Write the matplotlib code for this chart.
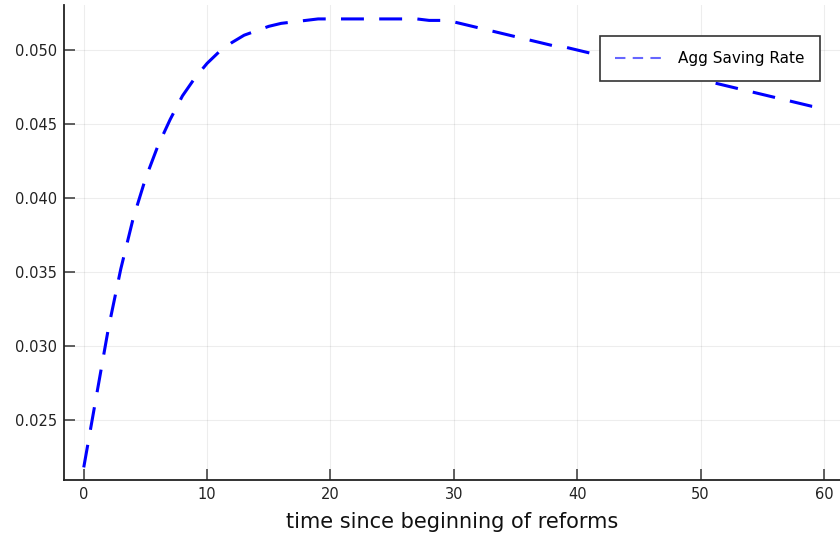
import numpy as np
import matplotlib.pyplot as plt

# time since beginning of reforms (years)
t = np.arange(0, 61)

# aggregate saving rate
saving_rate = [
    0.0218, 0.0265, 0.0312, 0.0352, 0.0386, 0.0413, 0.0435, 0.0453, 0.0469, 0.0481,
    0.0491, 0.0499, 0.0505, 0.0510, 0.0513, 0.0516, 0.0518, 0.0519, 0.0520, 0.0521,
    0.0521, 0.0521, 0.0521, 0.0521, 0.0521, 0.0521, 0.0521, 0.0521, 0.0520, 0.0520,
    0.0519, 0.0517, 0.0515, 0.0513, 0.0511, 0.0509, 0.0507, 0.0505, 0.0503, 0.0502,
    0.0500, 0.0498, 0.0496, 0.0494, 0.0492, 0.0490, 0.0488, 0.0486, 0.0484, 0.0482,
    0.0480, 0.0478, 0.0476, 0.0474, 0.0472, 0.0470, 0.0468, 0.0466, 0.0464, 0.0462,
    0.0461,
]

xticks = [0, 10, 20, 30, 40, 50, 60]
yticks = [0.025, 0.030, 0.035, 0.040, 0.045, 0.050]

fig = plt.figure(figsize=(8.4, 5.39), dpi=100)
ax = fig.add_axes([0.0762, 0.1095, 0.9238, 0.8812])

ax.plot(t, saving_rate, color="blue", linewidth=2.2, linestyle=(0, (7.5, 5)),
        label="Agg Saving Rate")

ax.set_xlim(-1.6, 61.3)
ax.set_ylim(0.02095, 0.05304)
ax.set_xticks(xticks)
ax.set_yticks(yticks)
ax.set_yticklabels([f"{v:.3f}" for v in yticks])
ax.tick_params(direction="in", length=8, width=1.2, color="#444444",
               labelsize=10.5, labelcolor="#222222", pad=5)
ax.grid(True, color="#000000", alpha=0.07, linewidth=0.8)

for side in ["top", "right"]:
    ax.spines[side].set_visible(False)
for side in ["left", "bottom"]:
    ax.spines[side].set_color("#222222")
    ax.spines[side].set_linewidth(1.3)

ax.set_xlabel("time since beginning of reforms", fontsize=15, color="#111111",
              labelpad=7)

leg = ax.legend(loc="upper right", bbox_to_anchor=(0.974, 0.935), fontsize=11,
                fancybox=False, framealpha=1, edgecolor="#333333",
                handlelength=3.3, borderpad=1.0, borderaxespad=0)
leg.get_frame().set_linewidth(1.2)
leg.get_lines()[0].set_alpha(0.6)
leg.get_lines()[0].set_linewidth(1.5)
leg.get_lines()[0].set_linestyle((0, (5, 3.5)))

fig.savefig("out.png", dpi=100)
